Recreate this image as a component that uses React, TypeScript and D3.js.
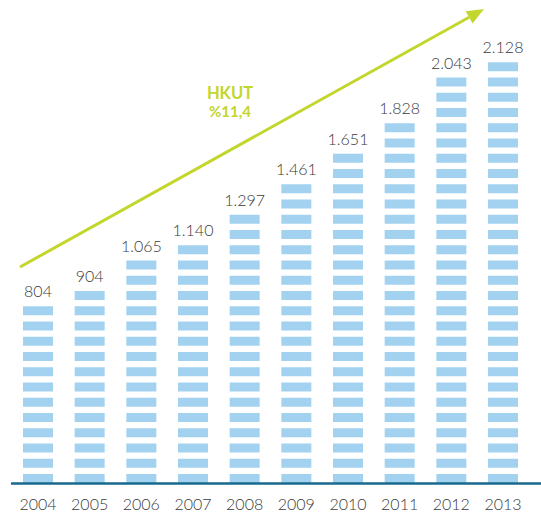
import React from "react";
import * as d3 from "d3";

const years = ["2004", "2005", "2006", "2007", "2008", "2009", "2010", "2011", "2012", "2013"];
const values = [804, 904, 1065, 1140, 1297, 1461, 1651, 1828, 2043, 2128];
const valueLabels = ["804", "904", "1.065", "1.140", "1.297", "1.461", "1.651", "1.828", "2.043", "2.128"];
const trendTitle = "HKUT";
const trendValue = "%11,4";

const W = 541;
const H = 513;
const BASE = 483;
const STRIPE_H = 9;
const PERIOD = 15.25;
const BAR_W = 30;

export default function App() {
  const x = d3.scalePoint<string>().domain(years).range([38, 503]);
  const y = d3.scaleLinear().domain([0, 2128]).range([461, 60.9]);
  const firstTop = BASE - STRIPE_H;

  const arrowStart: [number, number] = [20, 267];
  const arrowEnd: [number, number] = [484, 9];
  const ang = Math.atan2(arrowEnd[1] - arrowStart[1], arrowEnd[0] - arrowStart[0]);
  const headLen = 17;
  const headHalf = 7;
  const bx = arrowEnd[0] - headLen * Math.cos(ang);
  const by = arrowEnd[1] - headLen * Math.sin(ang);
  const px = -Math.sin(ang);
  const py = Math.cos(ang);
  const head = [
    [arrowEnd[0], arrowEnd[1]],
    [bx + px * headHalf, by + py * headHalf],
    [bx - px * headHalf, by - py * headHalf],
  ];
  const line = d3.line();

  return (
    <svg
      width={W}
      height={H}
      style={{ position: "absolute", left: 0, top: 0, background: "#fff" }}
      fontFamily="Lato, 'Open Sans', sans-serif"
    >
      {years.map((yr, i) => {
        const cx = x(yr) as number;
        const topY = y(values[i]);
        const n = Math.round((firstTop - topY) / PERIOD) + 1;
        const stripes = d3.range(n);
        const topStripe = firstTop - (n - 1) * PERIOD;
        return (
          <g key={yr}>
            {stripes.map((k) => (
              <rect
                key={k}
                x={cx - BAR_W / 2}
                y={firstTop - k * PERIOD}
                width={BAR_W}
                height={STRIPE_H}
                fill="#a3d2f0"
              />
            ))}
            <text
              x={cx}
              y={topStripe - 9}
              textAnchor="middle"
              fontSize={16}
              fontWeight={300}
              fill="#3a3a3a"
            >
              {valueLabels[i]}
            </text>
            <text
              x={cx}
              y={510}
              textAnchor="middle"
              fontSize={16}
              fontWeight={300}
              fill="#3a3a3a"
            >
              {yr}
            </text>
          </g>
        );
      })}
      <line x1={11} x2={W} y1={BASE + 0.5} y2={BASE + 0.5} stroke="#17698d" strokeWidth={2.6} />
      <path
        d={line([arrowStart, [bx, by]]) || ""}
        stroke="#c3d62c"
        strokeWidth={3}
        fill="none"
      />
      <path d={(line(head as [number, number][]) || "") + "Z"} fill="#c3d62c" />
      <text x={230} y={99} textAnchor="middle" fontSize={16.5} fontWeight={700} fill="#c3d62c">
        {trendTitle}
      </text>
      <text x={230} y={117} textAnchor="middle" fontSize={15} fontWeight={700} fill="#c3d62c">
        {trendValue}
      </text>
    </svg>
  );
}
